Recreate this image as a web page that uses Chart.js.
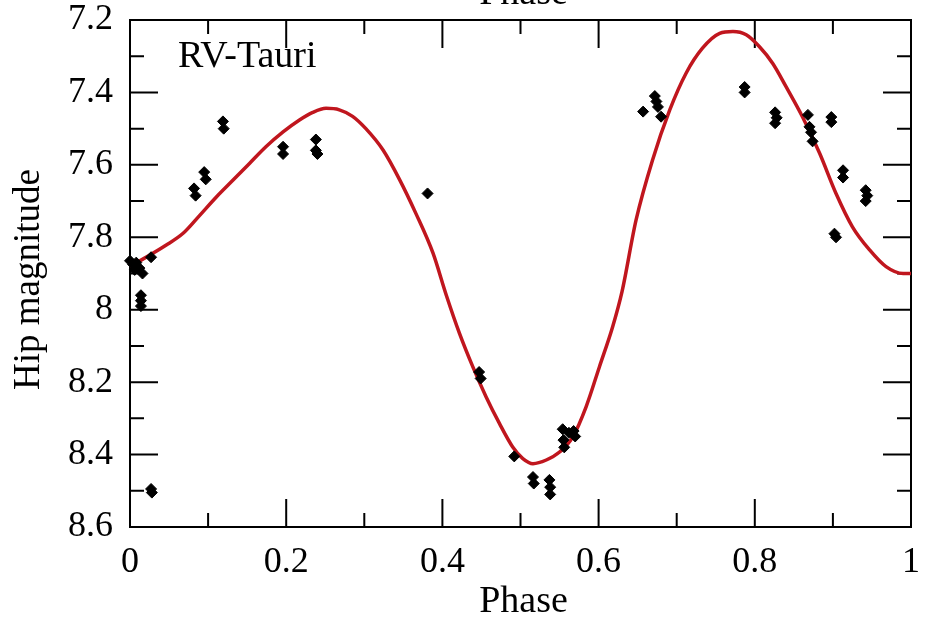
<!DOCTYPE html>
<html>
<head>
<meta charset="utf-8">
<script src="https://cdn.jsdelivr.net/npm/chart.js@4.4.1/dist/chart.umd.min.js"></script>
<style>
  body { margin: 0; background: #fff; }
  canvas { display: block; }
</style>
</head>
<body>
<canvas id="myChart" width="932" height="619"></canvas>
<script>
// observed points (phase, Hipparcos magnitude)
const obsPhase = [
    0.000, 0.004, 0.008, 0.012, 0.016, 0.006, 0.027,
    0.014, 0.014, 0.014, 0.027, 0.028,
    0.082, 0.084, 0.095, 0.097, 0.119, 0.120,
    0.196, 0.196, 0.238, 0.238, 0.240, 0.381,
    0.447, 0.449, 0.492, 0.516, 0.517,
    0.537, 0.538, 0.538, 0.554, 0.555, 0.556, 0.562, 0.568, 0.570,
    0.657, 0.672, 0.674, 0.676, 0.680,
    0.787, 0.787, 0.826, 0.828, 0.826,
    0.868, 0.870, 0.872, 0.874, 0.898, 0.898,
    0.913, 0.913, 0.942, 0.944, 0.942, 0.902, 0.904
];
const obsMag = [
    7.865, 7.875, 7.870, 7.885, 7.900, 7.890, 7.855,
    7.960, 7.975, 7.990, 8.495, 8.505,
    7.665, 7.685, 7.620, 7.640, 7.480, 7.500,
    7.550, 7.570, 7.530, 7.560, 7.570, 7.679,
    8.172, 8.190, 8.405, 8.462, 8.480,
    8.470, 8.490, 8.510, 8.330, 8.360, 8.380, 8.340, 8.335, 8.350,
    7.453, 7.410, 7.425, 7.440, 7.467,
    7.385, 7.400, 7.455, 7.470, 7.485,
    7.462, 7.495, 7.510, 7.535, 7.468, 7.482,
    7.615, 7.635, 7.670, 7.685, 7.700, 7.790, 7.800
];

// fitted light curve
const fitPhase = [
    0.000, 0.046, 0.068, 0.089, 0.110, 0.132, 0.153, 0.174, 0.196, 0.217,
    0.234, 0.251, 0.268, 0.285, 0.302, 0.324, 0.345, 0.366, 0.388, 0.405,
    0.422, 0.439, 0.456, 0.473, 0.490, 0.503, 0.516, 0.533, 0.550, 0.567,
    0.584, 0.601, 0.618, 0.630, 0.648, 0.669, 0.691, 0.712, 0.733, 0.755,
    0.772, 0.789, 0.806, 0.823, 0.840, 0.861, 0.883, 0.904, 0.925, 0.947,
    0.968, 0.990, 1.000
];
const fitMag = [
    7.881, 7.822, 7.789, 7.740, 7.690, 7.642, 7.596, 7.550, 7.509, 7.476,
    7.455, 7.444, 7.448, 7.466, 7.500, 7.559, 7.640, 7.734, 7.844, 7.960,
    8.066, 8.158, 8.241, 8.314, 8.379, 8.411, 8.425, 8.415, 8.393, 8.351,
    8.268, 8.158, 8.047, 7.950, 7.752, 7.587, 7.449, 7.347, 7.278, 7.237,
    7.232, 7.241, 7.274, 7.320, 7.384, 7.467, 7.568, 7.679, 7.771, 7.835,
    7.881, 7.900, 7.900
];

const serif = '"Liberation Serif", "Times New Roman", serif';

function fmt(v) {
    return String(Math.round(v * 10) / 10);
}

// box with inward major/minor ticks on all four sides
const frame = {
    id: 'frame',
    beforeDatasetsDraw(chart) {
        const ctx = chart.ctx;
        const a = chart.chartArea;
        const xs = chart.scales.x;
        const ys = chart.scales.y;
        ctx.save();
        ctx.strokeStyle = '#000';
        ctx.lineWidth = 2;
        ctx.strokeRect(a.left, a.top, a.right - a.left, a.bottom - a.top);
        ctx.beginPath();
        const xt = xs.ticks.map(t => t.value);
        xt.forEach((v, i) => {
            const px = xs.getPixelForValue(v);
            ctx.moveTo(px, a.bottom); ctx.lineTo(px, a.bottom - 28);
            ctx.moveTo(px, a.top); ctx.lineTo(px, a.top + 28);
            if (i < xt.length - 1) {
                const pm = xs.getPixelForValue((v + xt[i + 1]) / 2);
                ctx.moveTo(pm, a.bottom); ctx.lineTo(pm, a.bottom - 14);
                ctx.moveTo(pm, a.top); ctx.lineTo(pm, a.top + 14);
            }
        });
        const yt = ys.ticks.map(t => t.value);
        yt.forEach((v, i) => {
            const py = ys.getPixelForValue(v);
            ctx.moveTo(a.left, py); ctx.lineTo(a.left + 28, py);
            ctx.moveTo(a.right, py); ctx.lineTo(a.right - 28, py);
            if (i < yt.length - 1) {
                const pm = ys.getPixelForValue((v + yt[i + 1]) / 2);
                ctx.moveTo(a.left, pm); ctx.lineTo(a.left + 14, pm);
                ctx.moveTo(a.right, pm); ctx.lineTo(a.right - 14, pm);
            }
        });
        ctx.stroke();
        ctx.restore();
    },
    afterDraw(chart) {
        const ctx = chart.ctx;
        const a = chart.chartArea;
        const cx = (a.left + a.right) / 2;
        ctx.save();
        ctx.fillStyle = '#000';
        ctx.textAlign = 'center';
        ctx.textBaseline = 'alphabetic';
        ctx.font = '38px ' + serif;
        ctx.fillText('Phase', cx + 3, 4);
        ctx.fillText('Phase', cx + 3, 612);
        ctx.textAlign = 'left';
        ctx.fillText('RV-Tauri', 178, 67);
        ctx.translate(39, (a.top + a.bottom) / 2 + 6);
        ctx.rotate(-Math.PI / 2);
        ctx.textAlign = 'center';
        ctx.font = '37px ' + serif;
        ctx.fillText('Hip magnitude', 0, 0);
        ctx.restore();
    }
};

const data = {
    datasets: [{
        label: 'fit',
        data: fitPhase.map((p, i) => ({ x: p, y: fitMag[i] })),
        showLine: true,
        borderColor: '#c0161e',
        borderWidth: 3.5,
        pointRadius: 0,
        cubicInterpolationMode: 'monotone',
        clip: false,
        order: 2
    }, {
        label: 'Hip',
        data: obsPhase.map((p, i) => ({ x: p, y: obsMag[i] })),
        pointStyle: 'rectRot',
        pointRadius: 5.5,
        backgroundColor: '#000',
        borderColor: '#000',
        borderWidth: 1,
        clip: false,
        order: 1
    }]
};

const config = {
    type: 'scatter',
    data: data,
    options: {
        responsive: false,
        animation: false,
        layout: { padding: { top: 20, right: 21, left: 0, bottom: 0 } },
        plugins: {
            legend: { display: false },
            tooltip: { enabled: false }
        },
        scales: {
            x: {
                type: 'linear',
                min: 0,
                max: 1,
                grid: { display: false },
                border: { display: false },
                ticks: {
                    stepSize: 0.2,
                    color: '#000',
                    padding: 6,
                    maxRotation: 0,
                    font: { family: serif, size: 36 },
                    callback: fmt
                },
                afterFit(scale) {
                    scale.height = 92;
                    scale.paddingLeft = 0;
                    scale.paddingRight = 0;
                }
            },
            y: {
                type: 'linear',
                reverse: true,
                min: 7.2,
                max: 8.6,
                grid: { display: false },
                border: { display: false },
                ticks: {
                    stepSize: 0.2,
                    color: '#000',
                    padding: 9,
                    font: { family: serif, size: 36 },
                    callback: fmt
                },
                afterFit(scale) {
                    scale.width = 130;
                    scale.paddingTop = 0;
                    scale.paddingBottom = 0;
                }
            }
        }
    },
    plugins: [frame]
};

const myChart = new Chart(
    document.getElementById('myChart'),
    config
);
</script>
</body>
</html>
